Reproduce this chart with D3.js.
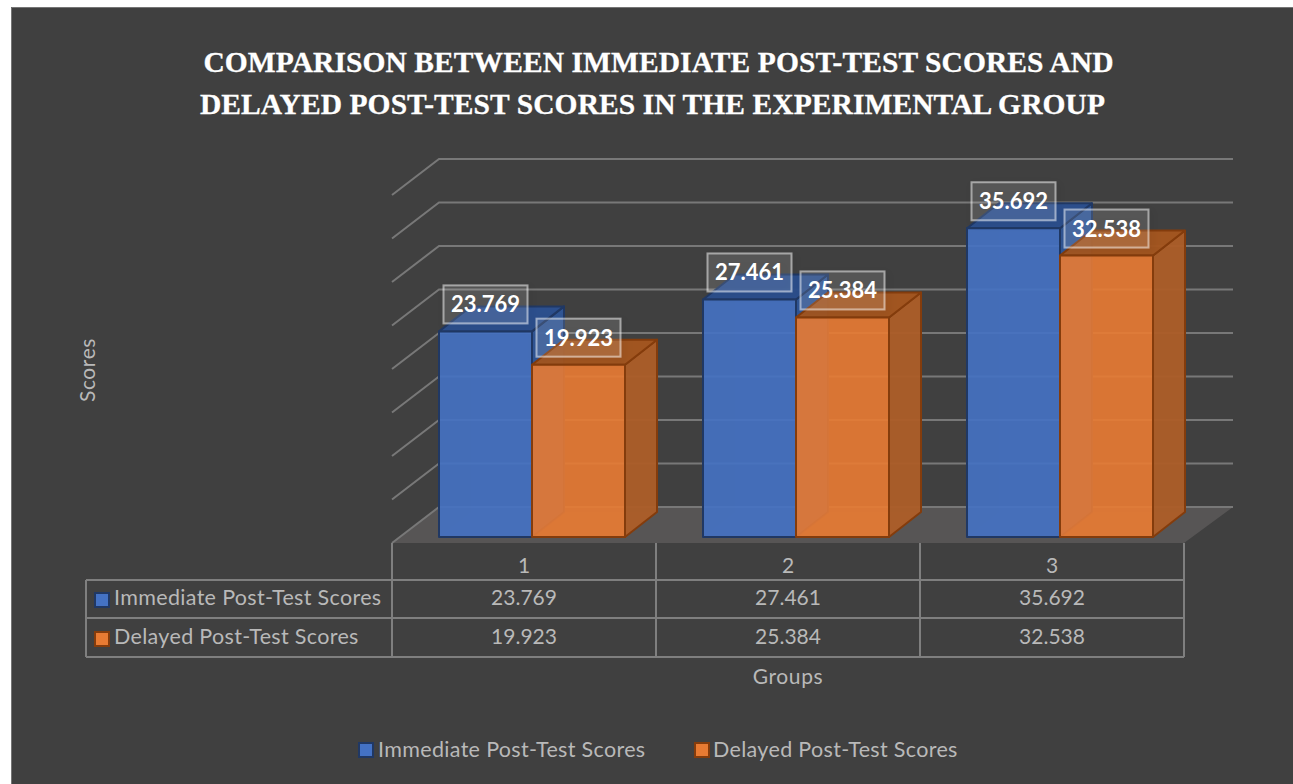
<!DOCTYPE html>
<html lang="en">
<head>
    <meta charset="utf-8">
    <title>Comparison between post-test scores</title>
    <style type="text/css">
        html, body{ margin:0; padding:0; background:#fff; }
        svg{ display:block; }
        text{ font-family:Lato, "Open Sans", sans-serif; fill:#b9b9b9; }
        .title{ font-family:"Liberation Serif", serif; font-weight:bold; font-size:29.5px; letter-spacing:0.08px; fill:#fff; stroke:#fff; stroke-width:0.3px; }
        .grid{ stroke:#787878; stroke-width:2; fill:none; }
        .table{ stroke:#7f7f7f; stroke-width:2; fill:none; }
        .cell{ font-size:21px; text-anchor:middle; }
        .axis-title{ letter-spacing:0.6px; }
        .name{ font-size:21.5px; letter-spacing:0.33px; }
        .label{ font-size:22px; font-weight:bold; fill:#fff; text-anchor:middle; }
    </style>
</head>
<body>
   <svg class="chart" width="1293" height="784"></svg>

   <script src="https://d3js.org/d3.v7.min.js"></script>
   <script>
        var titleLines = ['COMPARISON BETWEEN IMMEDIATE POST-TEST SCORES AND',
                          'DELAYED POST-TEST SCORES IN THE EXPERIMENTAL GROUP'];
        var categories = ['1', '2', '3'];
        var seriesNames = ['Immediate Post-Test Scores', 'Delayed Post-Test Scores'];
        var immediate = [23.769, 27.461, 35.692];
        var delayed = [19.923, 25.384, 32.538];
        var ticks = [0, 5, 10, 15, 20, 25, 30, 35, 40];

        var allValues = [immediate, delayed];
        var fills = [
            {front:'#4472c4', top:'#2b4f8f', side:'#2f5597', line:'#203864'},
            {front:'#e87b33', top:'#a4551f', side:'#ab5d28', line:'#843c0c'}
        ];

        var svg = d3.select('.chart');

        // 背景
        svg.append('rect').attr('x', 11).attr('y', 7).attr('width', 1282).attr('height', 777)
            .attr('fill', '#404040');
        svg.append('path').attr('d', 'M11.5,784V7.5H1293').attr('fill', 'none').attr('stroke', '#757575');

        // 阴影
        var defs = svg.append('defs');
        var shadow = defs.append('filter').attr('id', 'shadow')
            .attr('x', '-30%').attr('y', '-30%').attr('width', '160%').attr('height', '160%');
        shadow.append('feDropShadow').attr('dx', 2).attr('dy', 3).attr('stdDeviation', 4)
            .attr('flood-color', '#000').attr('flood-opacity', 0.25);

        // 标题
        svg.selectAll('.title').data(titleLines).enter().append('text')
            .attr('class', 'title')
            .attr('text-anchor', 'middle')
            .attr('x', function(d, i){ return [658.5, 652.5][i]; })
            .attr('y', function(d, i){ return [72, 114][i]; })
            .text(function(d){ return d; });

        // 比例尺
        var xscale = d3.scaleBand().domain(categories).range([392, 1184]);
        var inner = d3.scaleBand().domain(d3.range(seriesNames.length)).range([47, 233]);
        var wallY = d3.scaleLinear().domain([0, 40]).range([507, 159]);
        var barY = d3.scaleLinear().domain([0, 40]).range([537, 191]);

        var wallX = 47, wallDrop = 36;     // 墙到前沿的偏移
        var depthX = 32, depthY = -25;     // 柱子的进深

        // 地面
        svg.append('path')
            .attr('d', 'M392,543L439,507L1233,507L1184,543Z')
            .attr('fill', '#575555');

        // 网格线
        svg.selectAll('.grid').data(ticks).enter().append('path')
            .attr('class', 'grid')
            .attr('d', function(d){
                var y = wallY(d);
                return 'M392,' + (y + wallDrop) + 'L' + (392 + wallX) + ',' + y + 'L1233,' + y;
            });

        // 柱子
        function poly(points){ return 'M' + points.join('L') + 'Z'; }

        var bars = [];
        categories.forEach(function(c, i){
            allValues.forEach(function(vals, s){
                bars.push({cat:c, s:s, value:vals[i]});
            });
        });

        var bar = svg.selectAll('.bar').data(bars).enter().append('g').attr('class', 'bar');
        bar.each(function(d){
            var g = d3.select(this), f = fills[d.s];
            var x0 = xscale(d.cat) + inner(d.s),
                x1 = x0 + inner.bandwidth(),
                y0 = barY(d.value),
                y1 = barY(0);
            var faces = [
                // 背面
                {p:[[x0+depthX,y0+depthY],[x1+depthX,y0+depthY],[x1+depthX,y1+depthY],[x0+depthX,y1+depthY]], c:f.front, o:0.25},
                {p:[[x0,y0],[x0+depthX,y0+depthY],[x0+depthX,y1+depthY],[x0,y1]], c:f.front, o:0.2},
                {p:[[x0,y1],[x1,y1],[x1+depthX,y1+depthY],[x0+depthX,y1+depthY]], c:f.front, o:0.3},
                // 侧面 顶面 正面
                {p:[[x1,y0],[x1+depthX,y0+depthY],[x1+depthX,y1+depthY],[x1,y1]], c:f.side, o:0.95},
                {p:[[x0,y0],[x1,y0],[x1+depthX,y0+depthY],[x0+depthX,y0+depthY]], c:f.top, o:0.95},
                {p:[[x0,y0],[x1,y0],[x1,y1],[x0,y1]], c:f.front, o:0.88}
            ];
            g.selectAll('path').data(faces).enter().append('path')
                .attr('d', function(e){ return poly(e.p); })
                .attr('fill', function(e){ return e.c; })
                .attr('fill-opacity', function(e){ return e.o; })
                .attr('stroke', f.line)
                .attr('stroke-opacity', function(e){ return e.o < 0.5 ? 0 : 1; })
                .attr('stroke-width', 2)
                .attr('stroke-linejoin', 'round');
        });

        // 数据标签
        var label = svg.selectAll('.lab').data(bars).enter().append('g').attr('class', 'lab')
            .attr('transform', function(d){
                return 'translate(' + (xscale(d.cat) + inner(d.s) + inner.bandwidth() / 2) + ',' + (barY(d.value) - 27) + ')';
            });
        label.append('rect')
            .attr('x', -42).attr('y', -19).attr('width', 84).attr('height', 38)
            .attr('fill', '#fff').attr('fill-opacity', 0.1)
            .attr('stroke', '#fff').attr('stroke-opacity', 0.5).attr('stroke-width', 2)
            .attr('filter', 'url(#shadow)');
        label.append('text')
            .attr('class', 'label')
            .attr('y', 8)
            .text(function(d){ return d3.format('.3f')(d.value); });

        // 数据表
        var rows = [580, 618, 657];
        svg.selectAll('.hline').data(rows).enter().append('line')
            .attr('class', 'table hline')
            .attr('x1', 86).attr('x2', 1184)
            .attr('y1', function(d){ return d; }).attr('y2', function(d){ return d; });
        svg.selectAll('.vline').data(categories.concat('end')).enter().append('line')
            .attr('class', 'table vline')
            .attr('x1', function(d){ return d === 'end' ? xscale.range()[1] : xscale(d); })
            .attr('x2', function(d){ return d === 'end' ? xscale.range()[1] : xscale(d); })
            .attr('y1', 543).attr('y2', 657);
        svg.append('line').attr('class', 'table')
            .attr('x1', 86).attr('x2', 86).attr('y1', 580).attr('y2', 657);

        // 分类标签
        var axis = d3.axisBottom(xscale).tickSize(0).tickPadding(0);
        var axisG = svg.append('g').attr('transform', 'translate(0,558)').call(axis);
        axisG.select('.domain').remove();
        axisG.selectAll('text').attr('class', 'cell').attr('dy', '0.72em').attr('y', 0)
            .style('font-size', '21px');
        axisG.attr('font-family', null).attr('font-size', null);

        // 图例符号
        function swatch(x, y, s){
            svg.append('rect').attr('x', x).attr('y', y).attr('width', 14).attr('height', 14)
                .attr('fill', fills[s].front).attr('stroke', fills[s].line).attr('stroke-width', 2);
        }

        allValues.forEach(function(vals, s){
            var base = [605, 644][s];
            swatch(95, base - 12, s);
            svg.append('text').attr('class', 'name').attr('x', 114).attr('y', base)
                .text(seriesNames[s]);
            svg.selectAll('.row' + s).data(vals).enter().append('text')
                .attr('class', 'cell row' + s)
                .attr('x', function(d, i){ return xscale(categories[i]) + xscale.bandwidth() / 2; })
                .attr('y', base)
                .text(function(d){ return d3.format('.3f')(d); });
        });

        // 坐标轴标题
        svg.append('text').attr('class', 'cell axis-title').attr('transform', 'translate(95,370) rotate(-90)').text('Scores');
        svg.append('text').attr('class', 'cell axis-title').attr('x', 788).attr('y', 684).text('Groups');

        // 图例
        [[358, 378], [694, 713]].forEach(function(p, s){
            swatch(p[0] + 1, 743, s);
            svg.append('text').attr('class', 'name').attr('x', p[1]).attr('y', 757).text(seriesNames[s]);
        });
   </script>
</body>
</html>
